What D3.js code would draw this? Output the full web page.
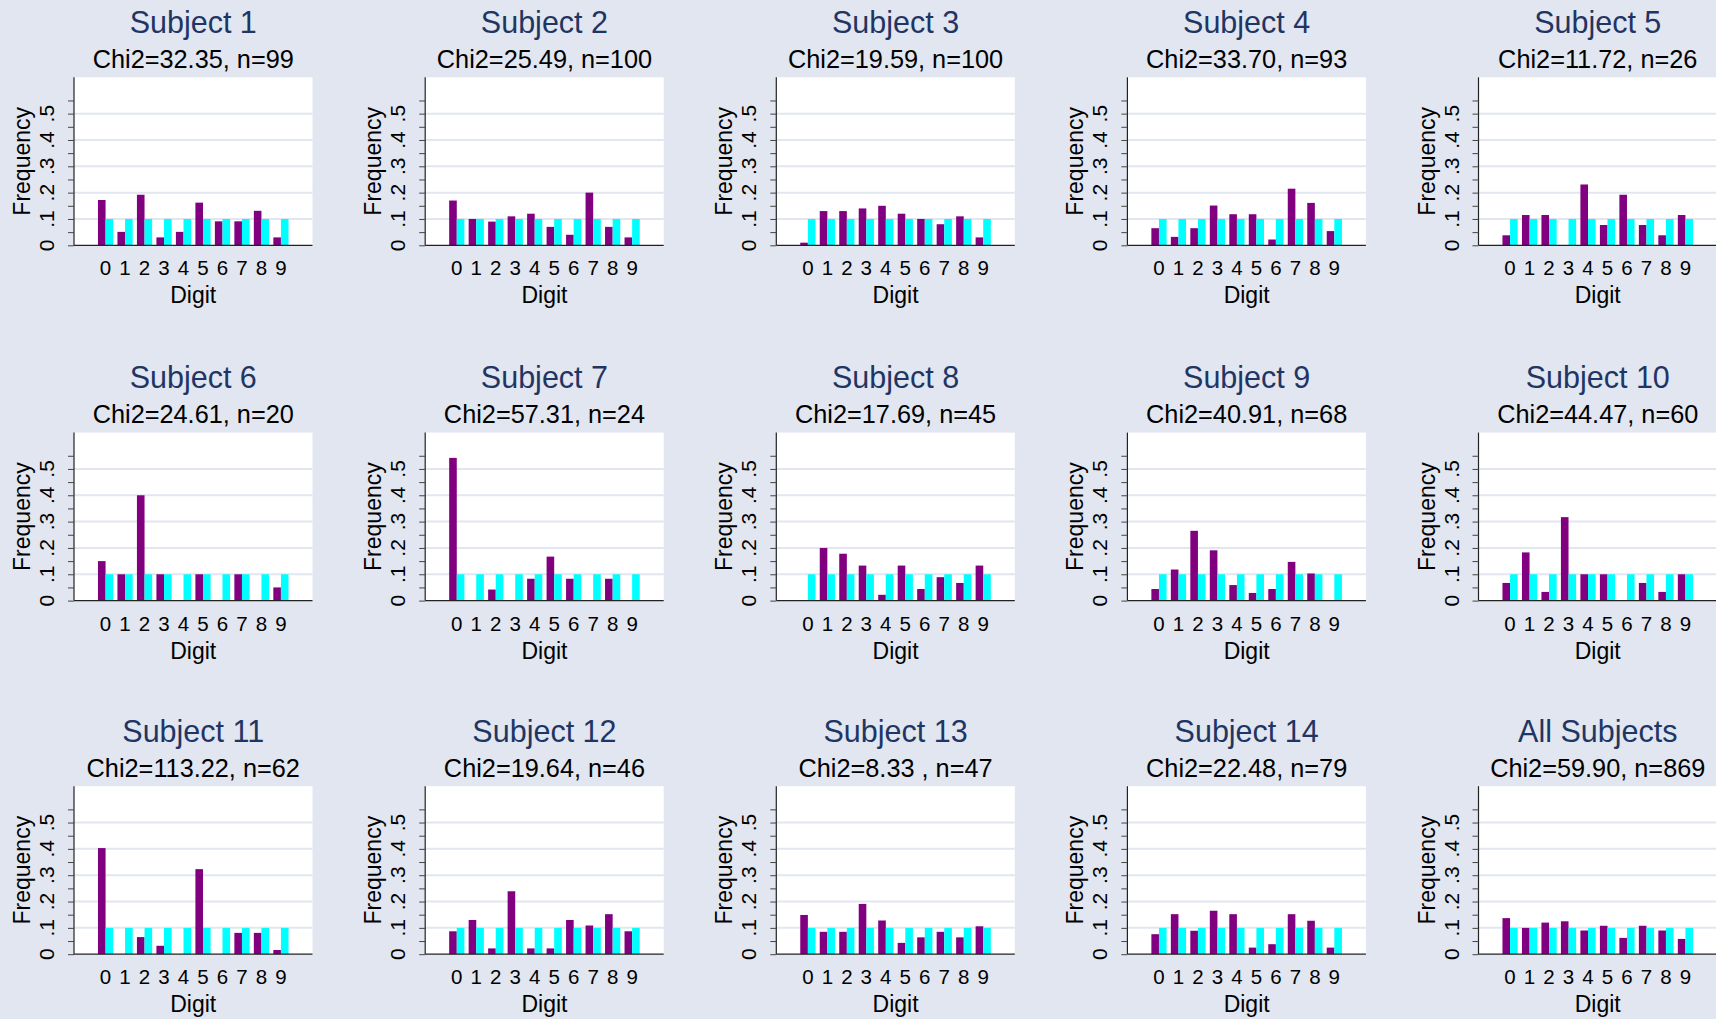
<!DOCTYPE html>
<html>
<head>
<meta charset="utf-8">
<script src="https://cdn.jsdelivr.net/npm/d3@7"></script>
<style>
  html, body { margin: 0; padding: 0; background: #e1e6f0; }
  svg { display: block; }
  text { font-family: "Liberation Sans", Arial, Helvetica, sans-serif; }
</style>
</head>
<body>
<svg id="chart" width="1716" height="1019"></svg>
<script>
// Panel titles and test statistics
const subjects = [
  "Subject 1", "Subject 2", "Subject 3", "Subject 4", "Subject 5",
  "Subject 6", "Subject 7", "Subject 8", "Subject 9", "Subject 10",
  "Subject 11", "Subject 12", "Subject 13", "Subject 14", "All Subjects"
];
const chi2Labels = [
  "Chi2=32.35, n=99", "Chi2=25.49, n=100", "Chi2=19.59, n=100", "Chi2=33.70, n=93", "Chi2=11.72, n=26",
  "Chi2=24.61, n=20", "Chi2=57.31, n=24", "Chi2=17.69, n=45", "Chi2=40.91, n=68", "Chi2=44.47, n=60",
  "Chi2=113.22, n=62", "Chi2=19.64, n=46", "Chi2=8.33 , n=47", "Chi2=22.48, n=79", "Chi2=59.90, n=869"
];

// Digit categories on the x axis
const digits = [0, 1, 2, 3, 4, 5, 6, 7, 8, 9];

// Observed frequency of each last digit, one row per panel
const observed = [
  [0.172, 0.051, 0.192, 0.030, 0.051, 0.162, 0.091, 0.091, 0.131, 0.030],
  [0.170, 0.100, 0.090, 0.110, 0.120, 0.070, 0.040, 0.200, 0.070, 0.030],
  [0.010, 0.130, 0.130, 0.140, 0.150, 0.120, 0.100, 0.080, 0.110, 0.030],
  [0.065, 0.032, 0.065, 0.151, 0.118, 0.118, 0.022, 0.215, 0.161, 0.054],
  [0.038, 0.115, 0.115, 0.000, 0.231, 0.077, 0.192, 0.077, 0.038, 0.115],
  [0.150, 0.100, 0.400, 0.100, 0.000, 0.100, 0.000, 0.100, 0.000, 0.050],
  [0.542, 0.000, 0.042, 0.000, 0.083, 0.167, 0.083, 0.000, 0.083, 0.000],
  [0.000, 0.200, 0.178, 0.133, 0.022, 0.133, 0.044, 0.089, 0.067, 0.133],
  [0.044, 0.118, 0.265, 0.191, 0.059, 0.029, 0.044, 0.147, 0.103, 0.000],
  [0.067, 0.183, 0.033, 0.317, 0.100, 0.100, 0.000, 0.067, 0.033, 0.100],
  [0.403, 0.000, 0.065, 0.032, 0.000, 0.323, 0.000, 0.081, 0.081, 0.016],
  [0.087, 0.130, 0.022, 0.239, 0.022, 0.022, 0.130, 0.109, 0.152, 0.087],
  [0.149, 0.085, 0.085, 0.191, 0.128, 0.043, 0.064, 0.085, 0.064, 0.106],
  [0.076, 0.152, 0.089, 0.165, 0.152, 0.025, 0.038, 0.152, 0.127, 0.025],
  [0.137, 0.100, 0.120, 0.125, 0.090, 0.108, 0.062, 0.108, 0.090, 0.058]
];

// Expected frequency under uniform last digits
const expected = [0.1, 0.1, 0.1, 0.1, 0.1, 0.1, 0.1, 0.1, 0.1, 0.1];

// Y axis: labelled ticks and the finer tick marks between them
const yTickValues = [0, 0.1, 0.2, 0.3, 0.4, 0.5];
const yTickLabels = ["0", ".1", ".2", ".3", ".4", ".5"];
const yMinorTicks = [0, 0.05, 0.1, 0.15, 0.2, 0.25, 0.3, 0.35, 0.4, 0.45, 0.5, 0.55];
const xTickLabels = ["0", "1", "2", "3", "4", "5", "6", "7", "8", "9"];

const COLORS = {
  bg: "#e1e6f0",
  grid: "#e1e6f0",
  observed: "#800080",
  expected: "#00ffff",
  title: "#1f3563",
  text: "#000000",
  axis: "#222222"
};

const svg = d3.select("#chart");
svg.append("rect").attr("width", 1716).attr("height", 1019).attr("fill", COLORS.bg);

// Grid of 5 columns x 3 rows of plot regions
const plotW = 238.5, plotH = 168;
const colLeft = [74, 425.2, 776.3, 1127.4, 1478.5];
const rowTop = [77.3, 432.6, 786.2];

const x = d3.scaleLinear().domain([-1.62, 10.62]).range([0, plotW]);
const y = d3.scaleLinear().domain([0, 0.638]).range([plotH, 0]);
const barW = x(0.39) - x(0);

subjects.forEach((name, i) => {
  const col = i % 5, row = Math.floor(i / 5);
  const g = svg.append("g").attr("transform", `translate(${colLeft[col]},${rowTop[row]})`);

  // plot region
  g.append("rect").attr("width", plotW).attr("height", plotH).attr("fill", "#ffffff");

  // horizontal grid lines
  g.selectAll("line.grid").data(yTickValues.filter(v => v > 0)).join("line")
    .attr("class", "grid")
    .attr("x1", 0).attr("x2", plotW)
    .attr("y1", d => y(d)).attr("y2", d => y(d))
    .attr("stroke", COLORS.grid).attr("stroke-width", 2);

  // observed bars
  g.selectAll("rect.obs").data(digits).join("rect")
    .attr("class", "obs")
    .attr("x", d => x(d) - barW)
    .attr("width", barW)
    .attr("y", d => y(observed[i][d]))
    .attr("height", d => y(0) - y(observed[i][d]))
    .attr("fill", COLORS.observed);

  // expected bars
  g.selectAll("rect.exp").data(digits).join("rect")
    .attr("class", "exp")
    .attr("x", d => x(d))
    .attr("width", barW)
    .attr("y", d => y(expected[d]))
    .attr("height", d => y(0) - y(expected[d]))
    .attr("fill", COLORS.expected);

  // y axis with tick marks at every .05
  const yAxis = d3.axisLeft(y).tickValues(yMinorTicks).tickSize(6).tickFormat("");
  const ya = g.append("g").call(yAxis);
  ya.select(".domain").attr("stroke", COLORS.axis).attr("stroke-width", 1.2).attr("d", `M0,0V${plotH}`);
  ya.selectAll(".tick line").attr("stroke", "#444").attr("stroke-width", 1);

  // rotated y tick labels
  g.selectAll("text.ylab").data(yTickValues).join("text")
    .attr("class", "ylab")
    .attr("transform", d => `translate(-20,${y(d)}) rotate(-90)`)
    .attr("text-anchor", "middle")
    .attr("font-size", 21)
    .attr("fill", COLORS.text)
    .text((d, k) => yTickLabels[k]);

  // x axis line
  g.append("line").attr("x1", 0).attr("x2", plotW).attr("y1", plotH).attr("y2", plotH)
    .attr("stroke", COLORS.axis).attr("stroke-width", 1.2);

  // x tick labels
  g.selectAll("text.xlab").data(digits).join("text")
    .attr("class", "xlab")
    .attr("x", d => x(d)).attr("y", plotH + 30)
    .attr("text-anchor", "middle")
    .attr("font-size", 20.5)
    .attr("fill", COLORS.text)
    .text(d => xTickLabels[d]);

  // axis titles
  g.append("text")
    .attr("x", plotW / 2).attr("y", plotH + 58)
    .attr("text-anchor", "middle").attr("font-size", 23).attr("fill", COLORS.text)
    .text("Digit");
  g.append("text")
    .attr("transform", `translate(-44,${plotH / 2}) rotate(-90)`)
    .attr("text-anchor", "middle").attr("font-size", 23).attr("fill", COLORS.text)
    .text("Frequency");

  // panel title and subtitle
  g.append("text")
    .attr("x", plotW / 2).attr("y", -44.5)
    .attr("text-anchor", "middle").attr("font-size", 30.5).attr("fill", COLORS.title)
    .text(name);
  g.append("text")
    .attr("x", plotW / 2).attr("y", -9.5)
    .attr("text-anchor", "middle").attr("font-size", 25.3).attr("fill", COLORS.text)
    .text(chi2Labels[i]);
});
</script>
</body>
</html>
